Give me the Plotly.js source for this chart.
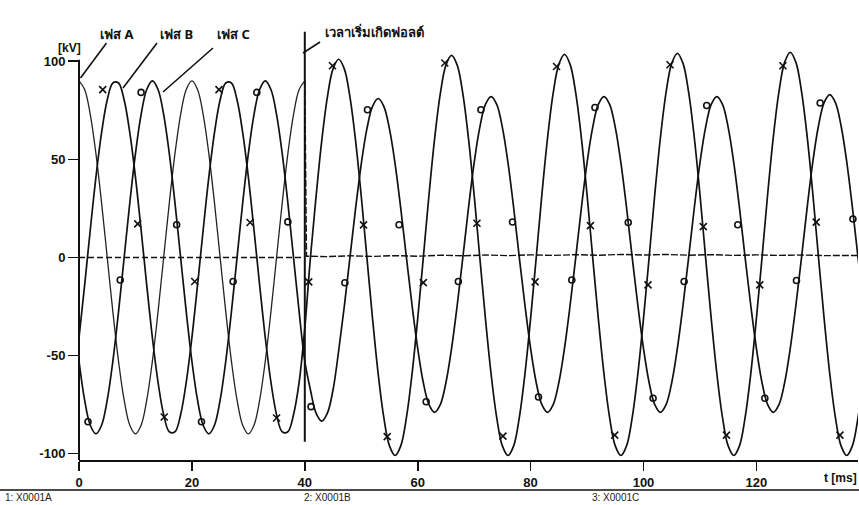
<!DOCTYPE html>
<html><head><meta charset="utf-8">
<script src="https://cdn.plot.ly/plotly-3.0.1.min.js"></script>
<style>html,body{margin:0;padding:0;background:#fff;}#chart{width:859px;height:505px;}</style>
</head><body><div id="chart"></div>
<script>
// ---- labels / ticks ----
const xTicks = [0, 20, 40, 60, 80, 100, 120];
const yTicks = [-100, -50, 0, 50, 100];
const phaseNames = ['เฟส A', 'เฟส B', 'เฟส C'];
const faultLabel = 'เวลาเริ่มเกิดฟอลต์';
const faultTime = 40;
const signalNames = ['1: X0001A', '2: X0001B', '3: X0001C'];
const yUnit = '[kV]';
const xUnit = 't [ms]';

// ---- phase A before the fault, 1 ms samples from t = 0 ms (kV) ----
const phaseA_pre = [
  90,85.6,72.8,52.9,27.8,0,-27.8,-52.9,-72.8,-85.6,-90,-85.6,-72.8,-52.9,-27.8,0,27.8,52.9,72.8,85.6,
  90,85.6,72.8,52.9,27.8,0,-27.8,-52.9,-72.8,-85.6,-90,-85.6,-72.8,-52.9,-27.8,0,27.8,52.9,72.8,85.6,
  90];
// ---- phase A after the fault (faulted phase, close to zero) ----
const phaseA_postT = [40,40.3,44,48,52,56,60,64,68,72,76,80,84,88,92,96,100,104,108,112,116,120,124,128,132,136,139];
const phaseA_postV = [90,0.6,0.4,0.8,0.5,0.9,0.6,1.1,0.8,1.2,0.9,1.3,1.0,1.4,1.1,1.5,1.2,1.5,1.1,1.4,1.0,1.3,1.0,1.2,0.9,1.1,1.0];

// ---- phase B, 1 ms samples from t = 0 to 139 ms (kV) ----
const phaseB = [
  -40.9,-14.1,14.1,40.9,63.6,80.2,88.9,88.9,80.2,63.6,40.9,14.1,-14.1,-40.9,-63.6,-80.2,-88.9,-88.9,-80.2,-63.6,
  -40.9,-14.1,14.1,40.9,63.6,80.2,88.9,88.9,80.2,63.6,40.9,14.1,-14.1,-40.9,-63.6,-80.2,-88.9,-88.9,-80.2,-63.6,
  -36,
  0,31.2,59.4,81.7,96.1,101,96.1,81.7,59.4,31.2,0,-31.2,-59.4,-81.7,-96.1,-101,-96.1,-81.7,-59.4,-31.2,
  0,31.8,60.5,83.3,98.0,103,98.0,83.3,60.5,31.8,0,-31.2,-59.4,-81.7,-96.1,-101,-96.1,-81.7,-59.4,-31.2,
  0,32.0,60.8,83.7,98.4,103.5,98.4,83.7,60.8,32.0,0,-31.2,-59.4,-81.7,-96.1,-101,-96.1,-81.7,-59.4,-31.2,
  0,32.1,61.1,84.1,98.9,104,98.9,84.1,61.1,32.1,0,-31.2,-59.4,-81.7,-96.1,-101,-96.1,-81.7,-59.4,-31.2,
  0,32.3,61.4,84.5,99.4,104.5,99.4,84.5,61.4,32.3,0,-31.2,-59.4,-81.7,-96.1,-101,-96.1,-81.7,-59.4];

// ---- phase C, 1 ms samples from t = 0 to 139 ms (kV) ----
const phaseC = [
  -52.9,-72.8,-85.6,-90,-85.6,-72.8,-52.9,-27.8,0,27.8,52.9,72.8,85.6,90,85.6,72.8,52.9,27.8,0,-27.8,
  -52.9,-72.8,-85.6,-90,-85.6,-72.8,-52.9,-27.8,0,27.8,52.9,72.8,85.6,90,85.6,72.8,52.9,27.8,0,-27.8,
  -52.9,
  -67.6,-79.4,-83.5,-79.4,-67.6,-47.6,-25.0,
  0,25.0,47.6,65.5,77.0,81,77.0,65.5,47.6,25.0,0,
  -24.4,-46.4,-63.9,-75.1,-79,-75.1,-63.9,-46.4,-24.4,0,
  25.3,48.2,66.3,78.0,82,78.0,66.3,48.2,25.3,0,
  -24.4,-46.4,-63.9,-75.1,-79,-75.1,-63.9,-46.4,-24.4,0,
  25.3,48.2,66.3,78.0,82,78.0,66.3,48.2,25.3,0,
  -24.4,-46.4,-63.9,-75.1,-79,-75.1,-63.9,-46.4,-24.4,0,
  25.3,48.2,66.3,78.0,82,78.0,66.3,48.2,25.3,0,
  -24.4,-46.4,-63.9,-75.1,-79,-75.1,-63.9,-46.4,-24.4,0,
  25.6,48.8,67.1,78.9,83,78.9,67.1,48.8,25.6,0,
  -24.4];

// ---- curve markers as they appear on the plot ----
const markB_t = [4.2,10.4,15.1,20.5,24.8,30.3,35.0,40.7,44.9,50.4,54.6,61.0,64.8,70.5,75.1,80.8,84.6,90.6,94.9,100.8,104.7,110.6,114.7,120.6,124.7,130.6,134.8];
const markB_v = [85.5,17.1,-81.4,-12.3,85.5,17.8,-81.9,-12.5,97.7,16.6,-91.4,-12.9,99.1,17.4,-91.1,-12.5,97.3,16.2,-90.6,-14.0,98.2,15.7,-90.6,-14.0,97.7,18.0,-90.6];
const markC_t = [1.6,7.3,11.0,17.3,21.7,27.3,31.5,37.0,41.1,47.1,51.1,56.7,61.5,67.2,71.2,76.8,81.4,87.3,91.4,97.3,101.7,107.2,111.2,116.7,121.5,127.1,131.3,137.1];
const markC_v = [-83.8,-11.5,84.1,16.6,-83.8,-12.3,84.1,18.1,-76.1,-12.9,75.3,16.6,-73.6,-12.3,75.3,18.0,-71.2,-11.5,76.4,17.8,-71.8,-12.3,77.4,16.6,-71.8,-11.8,78.7,19.6];

// zero reference (pre-fault)
const zeroRefT = [0, faultTime];
const zeroRefV = [0, 0];

// sample times (1 ms sampling)
const tA = phaseA_pre.map((_, i) => i);
const tB = phaseB.map((_, i) => i);
const tC = phaseC.map((_, i) => i);

const ink = '#111';
const traces = [
  {x: zeroRefT, y: zeroRefV, mode: 'lines', line: {color: ink, width: 1.5, dash: '6px,3px'}, hoverinfo: 'skip'},
  {x: phaseA_postT, y: phaseA_postV, mode: 'lines', line: {color: ink, width: 1.4, dash: '7px,2px'}, name: phaseNames[0]},
  {x: tA, y: phaseA_pre, mode: 'lines', line: {color: '#222', width: 1.3, shape: 'spline'}, name: phaseNames[0]},
  {x: tB, y: phaseB, mode: 'lines', line: {color: ink, width: 1.7, shape: 'spline'}, name: phaseNames[1]},
  {x: tC, y: phaseC, mode: 'lines', line: {color: ink, width: 1.7, shape: 'spline'}, name: phaseNames[2]},
  {x: markB_t, y: markB_v, mode: 'markers', marker: {symbol: 'x-thin-open', size: 7, color: ink, line: {color: ink, width: 1.6}}},
  {x: markC_t, y: markC_v, mode: 'markers', marker: {symbol: 'circle-open', size: 6, color: ink, line: {color: ink, width: 1.6}}}
];

// geometry helpers: plot area 79..858 px wide, 22..460 px tall
const L = 79, W = 779, T = 22, H = 438;
const px = x => (x - L) / W;
const py = y => (T + H - y) / H;

const thaiFont = {family: 'Noto Sans, Liberation Sans, DejaVu Sans, sans-serif', size: 13, color: ink, weight: 'bold'};
const smallFont = {family: 'Liberation Sans, Arial, sans-serif', size: 10, color: '#222'};

const annotations = [
  {text: yUnit, x: px(69), y: py(48), font: {family: 'Liberation Sans, Arial, sans-serif', size: 12, color: ink, weight: 'bold'}},
  {text: phaseNames[0], x: px(116), y: py(34), font: thaiFont},
  {text: phaseNames[1], x: px(176), y: py(34), font: thaiFont},
  {text: phaseNames[2], x: px(233), y: py(34), font: thaiFont},
  {text: faultLabel, x: px(374), y: py(32), font: thaiFont},
  {text: xUnit, x: px(822), y: py(478), xanchor: 'left', font: {family: 'Liberation Sans, Arial, sans-serif', size: 12, color: ink, weight: 'bold'}},
  {text: signalNames[0], x: px(3), y: py(497), xanchor: 'left', font: smallFont},
  {text: signalNames[1], x: px(302), y: py(497), xanchor: 'left', font: smallFont},
  {text: signalNames[2], x: px(590), y: py(497), xanchor: 'left', font: smallFont}
].map(a => Object.assign({xref: 'paper', yref: 'paper', showarrow: false, yanchor: 'middle', xanchor: a.xanchor || 'center'}, a));

const lineStyle = {color: ink, width: 1.6};
const shapes = [
  // y axis line (0 .. 100 kV region)
  {type: 'line', xref: 'paper', yref: 'y', x0: 0, x1: 0, y0: -103.3, y1: 100.8, line: {color: ink, width: 2}},
  // fault start marker
  {type: 'line', xref: 'x', yref: 'y', x0: faultTime, x1: faultTime, y0: -94, y1: 115, line: {color: ink, width: 2}},
  // leader lines from the labels to the curves
  {type: 'line', xref: 'paper', yref: 'paper', x0: px(106.5), y0: py(43), x1: px(80.5), y1: py(78), line: lineStyle},
  {type: 'line', xref: 'paper', yref: 'paper', x0: px(157), y0: py(43), x1: px(123), y1: py(88), line: lineStyle},
  {type: 'line', xref: 'paper', yref: 'paper', x0: px(213), y0: py(48), x1: px(163), y1: py(92), line: lineStyle},
  {type: 'line', xref: 'paper', yref: 'paper', x0: px(320), y0: py(42), x1: px(303), y1: py(53), line: lineStyle},
  // separator under the axis
  {type: 'line', xref: 'paper', yref: 'paper', x0: px(0), y0: py(490), x1: px(859), y1: py(490), line: {color: ink, width: 1.5}}
];

const layout = {
  width: 859, height: 505,
  margin: {l: L, r: 859 - L - W, t: T, b: 505 - T - H, pad: 0},
  paper_bgcolor: '#fff', plot_bgcolor: '#fff',
  showlegend: false,
  xaxis: {
    range: [0, 138], tickvals: xTicks, ticktext: xTicks.map(String),
    showline: true, linecolor: ink, linewidth: 2, ticks: 'outside', ticklen: 9, tickwidth: 1.6, tickcolor: ink,
    showgrid: false, zeroline: false,
    tickfont: {family: 'Liberation Sans, Arial, sans-serif', size: 13, color: ink, weight: 'bold'}
  },
  yaxis: {
    range: [-103.3, 120], tickvals: yTicks, ticktext: yTicks.map(String),
    showline: false, ticks: 'outside', ticklen: 10, tickwidth: 1.6, tickcolor: ink,
    showgrid: false, zeroline: false,
    tickfont: {family: 'Liberation Sans, Arial, sans-serif', size: 13, color: ink, weight: 'bold'}
  },
  annotations: annotations,
  shapes: shapes
};

Plotly.newPlot('chart', traces, layout, {staticPlot: true, displayModeBar: false});
</script>
</body></html>
